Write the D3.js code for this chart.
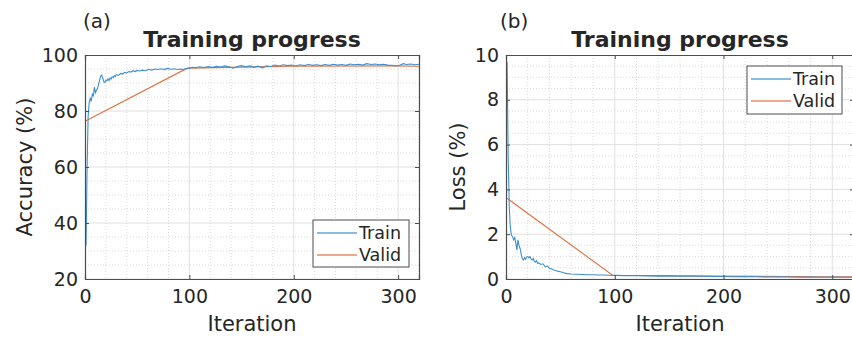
<!DOCTYPE html>
<html><head><meta charset="utf-8">
<script src="https://cdn.jsdelivr.net/npm/d3@7"></script>
<style>body{margin:0;background:#fff}svg{display:block}text{font-family:"DejaVu Sans",sans-serif;fill:#262626}</style>
</head><body><svg id="c" width="852" height="339"></svg>
<script>
const iterTicks = [0, 100, 200, 300];
const accTicks = [20, 40, 60, 80, 100];
const lossTicks = [0, 2, 4, 6, 8, 10];
const seriesNames = ["Train", "Valid"];

const trainAccIter = [1,2,3,4,5,6,7,8,9,10,11,12,13,14,15,16,17,18,19,20,21,22,23,24,25,26,27,28,29,30,32,34,36,38,40,42,44,46,48,50,52,55,58,61,64,67,70,73,76,79,82,85,88,91,94,97,100,103,106,110,114,118,122,126,130,134,138,142,146,150,154,158,162,166,170,174,178,182,186,190,194,198,202,206,210,214,218,222,226,230,234,238,242,246,250,254,258,262,266,270,274,278,282,286,290,294,298,302,305,308,312,316,320];
const trainAcc = [32,60,78,83,84.5,83.5,86,85.5,88.5,86.5,87.5,88,89.5,91,92.5,92.8,91.8,90.5,90.2,91,90.8,91.5,90.9,91.8,91.4,92.2,91.9,92.6,92.3,93,92.7,93.4,93.2,93.8,93.6,94.1,93.9,94.4,94.1,94.5,94.3,94.6,94.4,94.9,94.6,95.0,94.8,95.1,94.8,95.2,94.9,95.1,94.8,95.0,94.8,95.1,95.3,95.6,95.4,95.8,95.5,95.9,95.6,96.0,95.7,96.1,95.8,95.3,95.9,96.2,95.8,96.1,95.6,96.0,95.4,96.1,95.9,96.4,96.1,96.5,96.2,96.4,96.1,96.5,96.2,96.6,96.3,96.5,96.2,96.6,96.3,96.7,96.4,96.6,96.3,96.8,96.5,96.7,96.4,96.9,96.6,96.8,96.5,96.7,96.4,96.3,96.1,96.4,96.9,96.6,96.8,96.5,96.7];
const validAccIter = [1, 98, 196, 294, 320];
const validAcc = [76.5, 95.3, 96.0, 96.1, 96.0];

const trainLossIter = [1,2,3,4,5,6,7,8,9,10,11,12,13,14,15,16,17,18,19,20,21,22,23,24,25,26,27,28,29,30,32,34,36,38,40,42,44,46,48,50,53,56,60,65,70,75,80,85,90,95,100,110,120,130,140,150,160,170,180,190,200,210,220,230,240,250,260,270,280,290,300,310,320];
const trainLoss = [9.7,5.5,3.2,2.3,1.95,1.9,1.75,1.85,1.6,1.3,1.75,1.5,1.35,1.1,0.9,0.85,0.95,0.88,0.98,1.0,0.95,1.0,0.9,0.85,0.92,0.8,0.75,0.82,0.7,0.72,0.65,0.68,0.55,0.58,0.48,0.45,0.4,0.38,0.34,0.32,0.28,0.24,0.22,0.21,0.2,0.19,0.19,0.18,0.18,0.17,0.16,0.15,0.15,0.14,0.13,0.14,0.12,0.13,0.12,0.11,0.11,0.1,0.11,0.1,0.09,0.1,0.09,0.08,0.09,0.08,0.09,0.08,0.08];
const validLossIter = [1, 98, 196, 294, 320];
const validLoss = [3.6, 0.17, 0.13, 0.1, 0.1];

const colors = {Train: "#3d8fcf", Valid: "#e0703f"};
const svg = d3.select("#c");

function panel(o) {
  const x = d3.scaleLinear().domain([0, 320]).range([o.left, o.right]);
  const y = d3.scaleLinear().domain(o.ydom).range([o.bottom, o.top]);
  const g = svg.append("g");
  const W = o.right - o.left, H = o.bottom - o.top;
  const clipId = "clip" + o.id;
  svg.append("defs").append("clipPath").attr("id", clipId)
    .append("rect").attr("x", o.left).attr("y", o.top).attr("width", W).attr("height", H);
  g.append("rect").attr("x", o.left).attr("y", o.top).attr("width", W).attr("height", H).attr("fill", "#fff");
  const gg = g.append("g").attr("clip-path", `url(#${clipId})`);
  const xMinor = d3.range(0, 321, 20).filter(v => v % 100 !== 0);
  const yMinor = d3.range(o.ydom[0], o.ydom[1] + 1e-9, o.minor).filter(v => !o.yticks.some(t => Math.abs(t - v) < 1e-9));
  gg.selectAll(".xm").data(xMinor).join("line").attr("x1", d => x(d)).attr("x2", d => x(d)).attr("y1", o.top).attr("y2", o.bottom)
    .attr("stroke", "#dadada").attr("stroke-width", 1).attr("stroke-dasharray", "1,2");
  gg.selectAll(".ym").data(yMinor).join("line").attr("y1", d => y(d)).attr("y2", d => y(d)).attr("x1", o.left).attr("x2", o.right)
    .attr("stroke", "#dadada").attr("stroke-width", 1).attr("stroke-dasharray", "1,2");
  gg.selectAll(".xg").data(iterTicks).join("line").attr("x1", d => x(d)).attr("x2", d => x(d)).attr("y1", o.top).attr("y2", o.bottom)
    .attr("stroke", "#e0e0e0").attr("stroke-width", 1);
  gg.selectAll(".yg").data(o.yticks).join("line").attr("y1", d => y(d)).attr("y2", d => y(d)).attr("x1", o.left).attr("x2", o.right)
    .attr("stroke", "#e0e0e0").attr("stroke-width", 1);
  const line = d3.line().x(d => x(d[0])).y(d => y(d[1]));
  gg.append("path").datum(o.vIter.map((v, i) => [v, o.vVal[i]])).attr("d", line)
    .attr("fill", "none").attr("stroke", colors.Valid).attr("stroke-width", 1.1);
  gg.append("path").datum(o.tIter.map((v, i) => [v, o.tVal[i]])).attr("d", line)
    .attr("fill", "none").attr("stroke", colors.Train).attr("stroke-width", 1.1);
  const tl = 4;
  const ax = g.append("g").attr("transform", `translate(0,${o.bottom})`)
    .call(d3.axisBottom(x).tickValues(iterTicks).tickSize(-tl).tickPadding(6).tickFormat(d3.format("d")));
  const axTop = g.append("g").attr("transform", `translate(0,${o.top})`)
    .call(d3.axisTop(x).tickValues(iterTicks).tickSize(-tl).tickFormat(""));
  const ay = g.append("g").attr("transform", `translate(${o.left},0)`)
    .call(d3.axisLeft(y).tickValues(o.yticks).tickSize(-tl).tickPadding(7).tickFormat(d3.format("d")));
  const ayR = g.append("g").attr("transform", `translate(${o.right},0)`)
    .call(d3.axisRight(y).tickValues(o.yticks).tickSize(-tl).tickFormat(""));
  [ax, axTop, ay, ayR].forEach(a => {
    a.selectAll("path").attr("stroke", "#4d4d4d").attr("stroke-width", 1.2);
    a.selectAll("line").attr("stroke", "#4d4d4d");
    a.selectAll("text").attr("font-size", 19).attr("fill", "#262626").attr("font-family", "DejaVu Sans");
  });
  ax.selectAll("text").attr("dy", "0.95em");
  svg.append("text").attr("x", (o.left + o.right) / 2).attr("y", 47).attr("text-anchor", "middle")
    .attr("font-size", 22).attr("font-weight", "bold").attr("fill", "#000").text("Training progress");
  svg.append("text").attr("x", o.tagX).attr("y", 28).attr("font-size", 20).text(o.tag);
  svg.append("text").attr("x", (o.left + o.right) / 2).attr("y", 331).attr("text-anchor", "middle")
    .attr("font-size", 21).text("Iteration");
  svg.append("text").attr("transform", `translate(${o.ylabX},${(o.top + o.bottom) / 2}) rotate(-90)`)
    .attr("text-anchor", "middle").attr("font-size", 21).text(o.ylab);
  const L = o.legend;
  const lg = svg.append("g");
  lg.append("rect").attr("x", L.x).attr("y", L.y).attr("width", L.w).attr("height", L.h)
    .attr("fill", "#fff").attr("stroke", "#4d4d4d").attr("stroke-width", 1);
  seriesNames.forEach((s, i) => {
    const yy = L.y + 13 + i * 22;
    lg.append("line").attr("x1", L.x + 4).attr("x2", L.x + 44).attr("y1", yy).attr("y2", yy)
      .attr("stroke", colors[s]).attr("stroke-width", 1.3).attr("opacity", 0.8);
    lg.append("text").attr("x", L.x + 46).attr("y", yy).attr("dy", "0.36em").attr("font-size", 17.5).text(s);
  });
}

panel({id: "a", left: 85, right: 419, top: 55, bottom: 279, ydom: [20, 100], yticks: accTicks, minor: 5,
  tIter: trainAccIter, tVal: trainAcc, vIter: validAccIter, vVal: validAcc,
  tag: "(a)", tagX: 83, ylab: "Accuracy (%)", ylabX: 32,
  legend: {x: 313, y: 220, w: 96, h: 47}});
panel({id: "b", left: 506, right: 854, top: 55, bottom: 279, ydom: [0, 10], yticks: lossTicks, minor: 0.5,
  tIter: trainLossIter, tVal: trainLoss, vIter: validLossIter, vVal: validLoss,
  tag: "(b)", tagX: 500, ylab: "Loss (%)", ylabX: 465,
  legend: {x: 747, y: 66, w: 95, h: 48}});
</script></body></html>
